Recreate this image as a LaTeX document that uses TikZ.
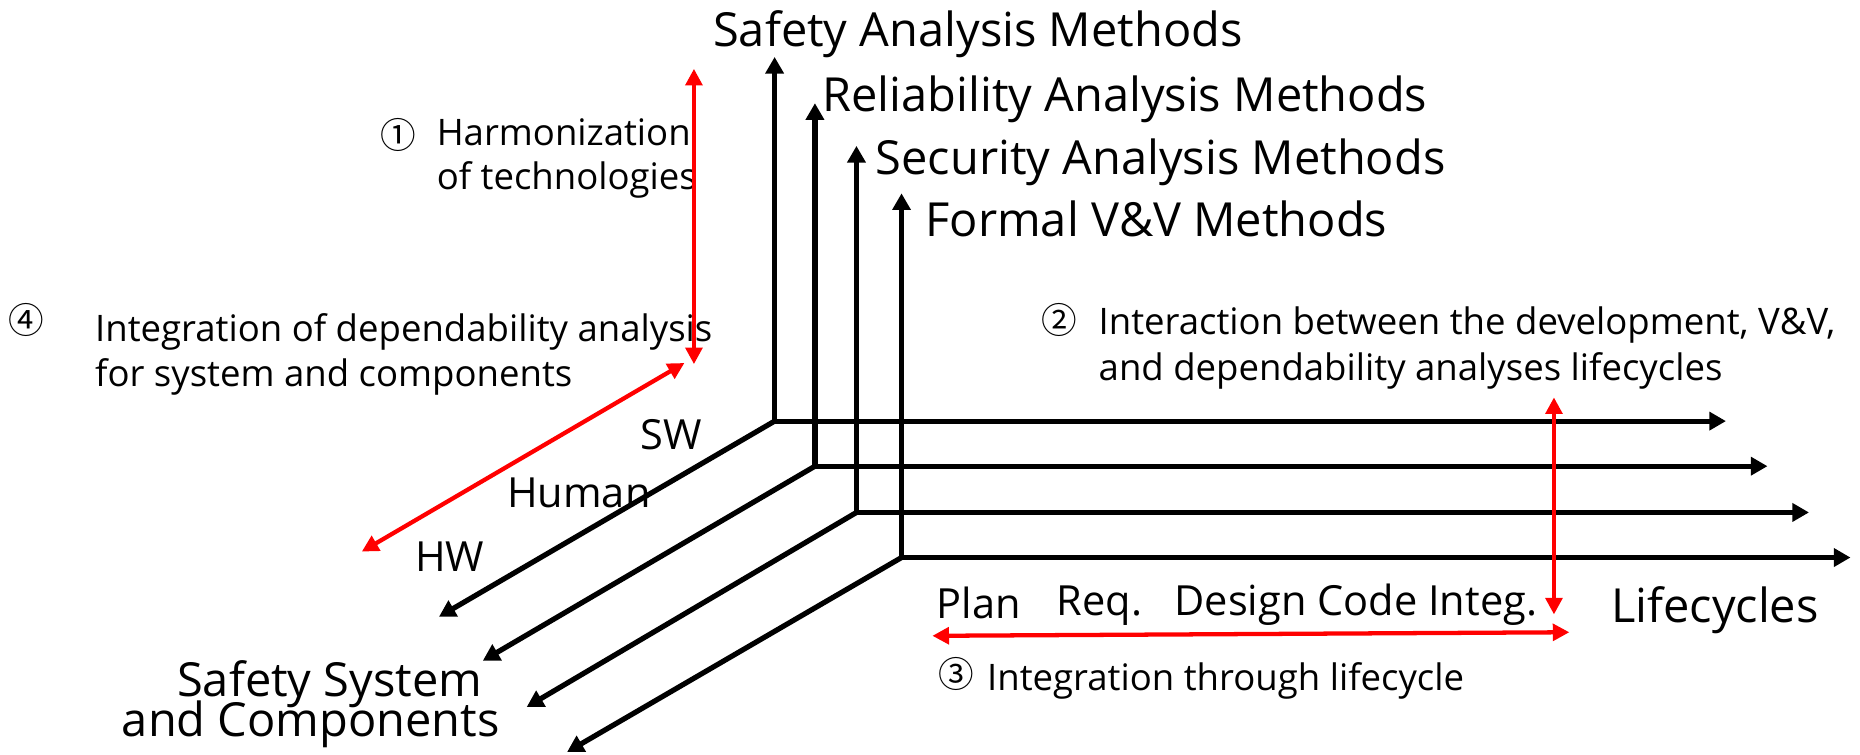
\documentclass[tikz,border=0pt]{standalone}
\usepackage{fontspec}
\setmainfont{Open Sans}
\newfontfamily\cjk{Noto Sans CJK KR}
\usetikzlibrary{arrows.meta}
\begin{document}
\begin{tikzpicture}[x=1pt,y=-1pt,
  ax/.style={line width=4.4pt, line cap=round, -{Triangle[length=14pt,width=15pt]}},
  rd/.style={draw=red, line width=3.6pt, {Triangle[length=14pt,width=14pt]}-{Triangle[length=14pt,width=14pt]}},
  big/.style={font=\fontsize{39.6}{34}\selectfont, inner sep=0pt},
  mid/.style={font=\fontsize{35}{36}\selectfont, inner sep=0pt},
  sml/.style={font=\fontsize{30.8}{32}\selectfont, inner sep=0pt},
  num/.style={font=\cjk\fontsize{30}{32}\selectfont, inner sep=0pt},
]
\useasboundingbox (0,0) rectangle (1568,636);
% axis origins
\coordinate (o1) at (653,355);
\coordinate (o2) at (687,393);
\coordinate (o3) at (722,432);
\coordinate (o4) at (760,470);
% vertical tips
\coordinate (v1) at (653,48);
\coordinate (v2) at (687,87);
\coordinate (v3) at (722,123);
\coordinate (v4) at (760,163);
% horizontal tips
\coordinate (h1) at (1455,355);
\coordinate (h2) at (1490,393);
\coordinate (h3) at (1525,432);
\coordinate (h4) at (1560,470);
% diagonal tips
\coordinate (d1) at (370,520);
\coordinate (d2) at (407,557);
\coordinate (d3) at (444,596);
\coordinate (d4) at (478,634);

\foreach \i in {1,2,3,4}{
  \draw[ax] (o\i) -- (v\i);
  \draw[ax] (o\i) -- (h\i);
  \draw[ax] (o\i) -- (d\i);
}

% axis labels
\node[big, anchor=base west] (lsafe) at (601,39) {Safety Analysis Methods};
\node[big, anchor=base west] (lrel) at (693,94) {Reliability Analysis Methods};
\node[big, anchor=base west] (lsec) at (738,147) {Security Analysis Methods};
\node[big, anchor=base west] (lfor) at (780,199) {Formal V\&V Methods};

\node[mid, anchor=base] (lsw) at (566,379) {SW};
\node[mid, anchor=base] (lhum) at (488,428) {Human};
\node[mid, anchor=base] (lhw) at (379,482) {HW};
\node[big, anchor=base] (lss1) at (278,587) {Safety System};
\node[big, anchor=base] (lss2) at (262,621) {and Components};

\node[mid, anchor=base] (lplan) at (825,521) {Plan};
\node[mid, anchor=base] (lreq) at (927,519) {Req.};
\node[mid, anchor=base west] (ldes) at (990,519) {Design Code Integ.};
\node[big, anchor=base west] (llife) at (1358,525) {Lifecycles};

% annotations
\node[num] (n1) at (336,114) {①};
\node[sml, anchor=base west] (t1a) at (368,123) {Harmonization};
\node[sml, anchor=base west] (t1b) at (368,160) {of technologies};

\node[num] (n4) at (22,270) {④};
\node[sml, anchor=base west] (t4a) at (80,288) {Integration of dependability analysis};
\node[sml, anchor=base west] (t4b) at (80,326) {for system and components};

\node[num] (n2) at (893,270) {②};
\node[sml, anchor=base west] (t2a) at (926,282) {Interaction between the development, V\&V,};
\node[sml, anchor=base west] (t2b) at (926,321) {and dependability analyses lifecycles};

\node[num] (n3) at (806,568) {③};
\node[sml, anchor=base west] (t3) at (832,582) {Integration through lifecycle};

% red arrows
\coordinate (r1a) at (585,58);
\coordinate (r1b) at (585,307);
\coordinate (r4a) at (577,306);
\coordinate (r4b) at (305,465);
\coordinate (r2a) at (1310,335);
\coordinate (r2b) at (1310,518);
\coordinate (r3a) at (786,536);
\coordinate (r3b) at (1323,533);
\draw[rd] (r1a) -- (r1b);
\draw[rd] (r4a) -- (r4b);
\draw[rd] (r2a) -- (r2b);
\draw[rd] (r3a) -- (r3b);
\end{tikzpicture}
\end{document}
